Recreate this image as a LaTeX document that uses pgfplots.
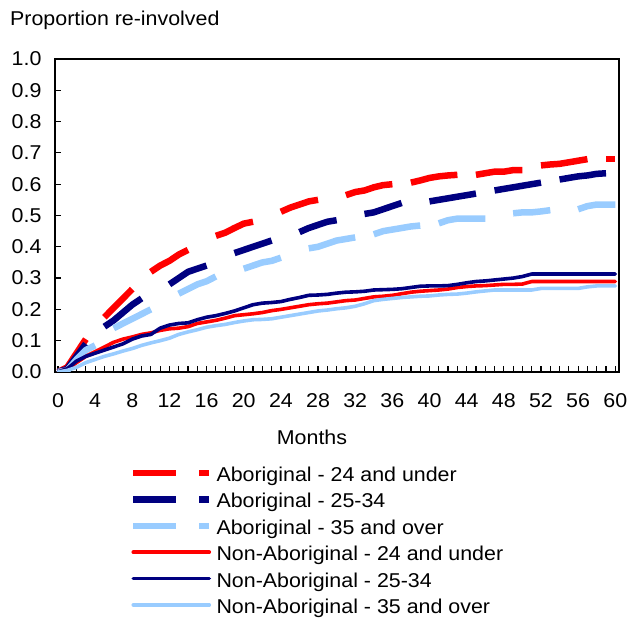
\documentclass[border=0pt]{standalone}
\usepackage{fontspec}
\setmainfont{Liberation Sans}[FakeStretch=1.07]
\usepackage{pgfplots}
\usepackage{pgfplotstable}
\pgfplotsset{compat=1.18}
\definecolor{cred}{RGB}{255,0,0}
\definecolor{cnavy}{RGB}{0,0,128}
\definecolor{clblue}{RGB}{153,204,255}
\newcommand{\f}{\fontsize{20bp}{24bp}\selectfont}
\pgfplotstableread{
m a24 a25 a35 n24 n25 n35
0 0 0 0 0 0 0
1 0.015 0.01 0.005 0.01 0.01 0.005
2 0.06 0.05 0.04 0.03 0.035 0.015
3 0.105 0.09 0.07 0.05 0.05 0.03
4 0.14 0.12 0.085 0.065 0.06 0.04
5 0.175 0.145 0.12 0.08 0.07 0.05
6 0.205 0.165 0.14 0.095 0.08 0.058
7 0.235 0.19 0.155 0.105 0.09 0.067
8 0.265 0.215 0.17 0.112 0.105 0.075
9 0.295 0.235 0.185 0.12 0.115 0.085
10 0.32 0.255 0.2 0.125 0.12 0.093
11 0.34 0.268 0.215 0.133 0.14 0.1
12 0.355 0.28 0.235 0.138 0.15 0.108
13 0.375 0.3 0.25 0.14 0.155 0.12
14 0.39 0.32 0.265 0.145 0.157 0.128
15 0.405 0.33 0.28 0.155 0.167 0.135
16 0.42 0.34 0.29 0.16 0.175 0.143
17 0.435 0.355 0.305 0.165 0.18 0.148
18 0.445 0.37 0.315 0.172 0.187 0.152
19 0.46 0.38 0.325 0.18 0.195 0.158
20 0.474 0.39 0.33 0.183 0.205 0.163
21 0.48 0.4 0.34 0.186 0.215 0.167
22 0.49 0.41 0.35 0.19 0.22 0.168
23 0.5 0.42 0.355 0.196 0.222 0.17
24 0.512 0.43 0.365 0.2 0.225 0.175
25 0.525 0.44 0.375 0.205 0.232 0.18
26 0.535 0.447 0.385 0.21 0.238 0.185
27 0.545 0.46 0.395 0.215 0.245 0.19
28 0.55 0.47 0.4 0.218 0.246 0.195
29 0.555 0.48 0.41 0.22 0.248 0.198
30 0.56 0.485 0.42 0.224 0.252 0.202
31 0.565 0.495 0.425 0.228 0.255 0.205
32 0.575 0.5 0.43 0.23 0.256 0.21
33 0.58 0.505 0.435 0.235 0.258 0.218
34 0.59 0.51 0.44 0.24 0.262 0.228
35 0.597 0.52 0.45 0.242 0.263 0.232
36 0.6 0.53 0.455 0.245 0.264 0.235
37 0.602 0.54 0.46 0.25 0.266 0.238
38 0.605 0.54 0.465 0.255 0.27 0.24
39 0.612 0.542 0.468 0.258 0.274 0.242
40 0.62 0.545 0.47 0.26 0.275 0.243
41 0.625 0.55 0.475 0.262 0.275 0.246
42 0.628 0.555 0.485 0.265 0.276 0.248
43 0.63 0.56 0.49 0.27 0.28 0.249
44 0.63 0.565 0.49 0.273 0.285 0.252
45 0.63 0.57 0.49 0.275 0.289 0.256
46 0.635 0.575 0.49 0.276 0.291 0.259
47 0.64 0.58 0.495 0.278 0.294 0.262
48 0.64 0.585 0.5 0.28 0.297 0.262
49 0.645 0.59 0.507 0.28 0.3 0.262
50 0.645 0.595 0.51 0.281 0.305 0.262
51 0.65 0.6 0.51 0.289 0.313 0.262
52 0.66 0.605 0.513 0.289 0.313 0.267
53 0.663 0.61 0.517 0.289 0.313 0.267
54 0.665 0.615 0.517 0.289 0.313 0.267
55 0.67 0.62 0.518 0.289 0.313 0.267
56 0.675 0.625 0.52 0.289 0.313 0.267
57 0.68 0.628 0.53 0.289 0.313 0.272
58 0.68 0.633 0.535 0.289 0.313 0.275
59 0.68 0.635 0.535 0.289 0.313 0.275
60 0.68 0.635 0.535 0.289 0.313 0.275
}\data
% one dash of a dashed series: colour, column, first month, last month
\newcommand{\dpiece}[4]{\addplot[#1, dshp, forget plot] table[x=m, y=#2, restrict x to domain=#3:#4] {\data};}
\begin{document}
\begin{tikzpicture}
\useasboundingbox (0,0) rectangle (628bp,618bp);
\begin{axis}[
  at={(55bp,246bp)}, anchor=south west,
  scale only axis, width=564bp, height=313bp,
  xmin=-0.32, xmax=60.4, ymin=0, ymax=1,
  xtick={0,4,...,60}, minor x tick num=3,
  ytick={0,0.1,0.2,0.3,0.4,0.5,0.6,0.7,0.8,0.9,1.0},
  yticklabel={\pgfmathprintnumber[fixed,fixed zerofill,precision=1]{\tick}},
  /pgf/number format/assume math mode=true,
  tick align=inside, xtick pos=bottom, ytick pos=left,
  major tick length=6bp, minor tick length=6bp,
  every tick/.style={black, line width=1.2bp},
  axis line style={line width=1.8bp},
  tick label style={font=\f},
  xticklabel style={yshift=-18bp},
  yticklabel style={xshift=-10bp},
  legend style={at={(0.133,-0.2955)}, anchor=north west, draw=none, fill=none,
    inner sep=0pt, outer sep=0pt, row sep=9.4bp, column sep=4bp, font=\f,
    nodes={inner sep=0pt, text height=17bp, text depth=0bp}},
  legend cell align=left,
  legend image code/.code={\draw[#1] (0bp,0bp) -- (76bp,0bp);},
  dshp/.style={line width=6.5bp, line cap=butt, line join=round, no markers},
  sld/.style={line width=3.6bp, line join=round, line cap=round, no markers},
]
% Aboriginal - 24 and under
\dpiece{cred}{a24}{0}{3}
\dpiece{cred}{a24}{5}{8}
\dpiece{cred}{a24}{10}{14}
\dpiece{cred}{a24}{17}{21}
\dpiece{cred}{a24}{24}{28}
\dpiece{cred}{a24}{31}{36}
\dpiece{cred}{a24}{38}{43}
\dpiece{cred}{a24}{45}{50}
\dpiece{cred}{a24}{52}{57}
\dpiece{cred}{a24}{59}{60}
% Aboriginal - 25-34
\dpiece{cnavy}{a25}{0}{3}
\dpiece{cnavy}{a25}{5}{9}
\dpiece{cnavy}{a25}{12}{16}
\dpiece{cnavy}{a25}{19}{23}
\dpiece{cnavy}{a25}{26}{30}
\dpiece{cnavy}{a25}{33}{37}
\dpiece{cnavy}{a25}{40}{45}
\dpiece{cnavy}{a25}{47}{52}
\dpiece{cnavy}{a25}{54}{59}
% Aboriginal - 35 and over
\dpiece{clblue}{a35}{0}{4}
\dpiece{clblue}{a35}{6}{10}
\dpiece{clblue}{a35}{13}{17}
\dpiece{clblue}{a35}{20}{24}
\dpiece{clblue}{a35}{27}{32}
\dpiece{clblue}{a35}{34}{39}
\dpiece{clblue}{a35}{41}{46}
\dpiece{clblue}{a35}{49}{53}
\dpiece{clblue}{a35}{56}{60}
\addlegendimage{cred, line width=6.5bp, dash pattern=on 43bp off 23bp}
\addlegendentry{Aboriginal - 24 and under}
\addlegendimage{cnavy, line width=6.5bp, dash pattern=on 43bp off 23bp}
\addlegendentry{Aboriginal - 25-34}
\addlegendimage{clblue, line width=6.5bp, dash pattern=on 43bp off 23bp}
\addlegendentry{Aboriginal - 35 and over}
\addplot[cred, sld] table[x=m, y=n24] {\data};
\addlegendentry{Non-Aboriginal - 24 and under}
\addplot[cnavy, sld] table[x=m, y=n25] {\data};
\addlegendentry{Non-Aboriginal - 25-34}
\addplot[clblue, sld] table[x=m, y=n35] {\data};
\addlegendentry{Non-Aboriginal - 35 and over}
\end{axis}
\node[anchor=base west, inner sep=0pt, font=\f] at (10bp,592bp) {Proportion re-involved};
\node[anchor=base, inner sep=0pt, font=\f] at (312bp,173bp) {Months};
\end{tikzpicture}
\end{document}
